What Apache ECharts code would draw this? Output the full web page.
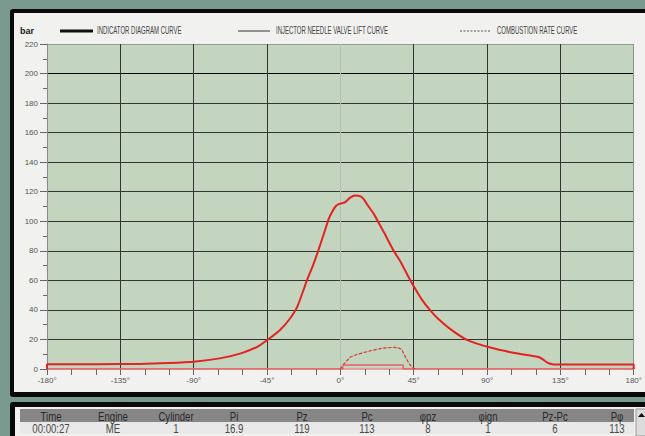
<!DOCTYPE html>
<html>
<head>
<meta charset="utf-8">
<script src="https://cdn.jsdelivr.net/npm/echarts@6/dist/echarts.min.js"></script>
<style>
html,body{margin:0;padding:0;background:#7b9a8f;}
#chart{width:645px;height:436px;}
</style>
</head>
<body>
<div id="chart"></div>
<script>
// ---- data ----
const pressureAngle = [-180, -180, -150, -123, -105, -90, -74, -61, -51, -44, -37, -31, -26.5, -20.5, -16.5, -13.3, -10, -7.2, -5, -3, -1, 1, 3, 6, 9.2, 12, 14.3, 17, 20.5, 24, 27, 32.7, 37, 41, 45, 50, 55.3, 60, 67.5, 78, 92, 106, 118, 122, 124.5, 127, 130, 132, 135, 150, 180, 180];
const pressureBar   = [0, 3.3, 3.3, 3.4, 4.0, 4.9, 7.2, 10.6, 15, 20.3, 26.4, 34, 42, 60, 71, 81, 92, 101.5, 106.5, 110, 111.6, 112.2, 113, 116, 117.5, 117, 115, 110.5, 105, 98, 92, 80, 72.5, 64, 56, 47, 39.5, 34, 27, 19.5, 14.5, 11, 8.8, 8, 6.3, 4.3, 3.2, 3.0, 3.0, 3.0, 3.0, 0];

const needleAngle = [-180, 1.5, 1.5, 38.5, 38.5, 180];
const needleLift  = [0, 0, 2.7, 2.7, 0, 0];

const combAngle = [0, 1, 3, 6, 10, 14, 19, 24.5, 29, 32.7, 35.5, 37.5, 40, 42, 44, 46];
const combRate  = [0, 2, 4.3, 8, 9.8, 11, 12.5, 13.8, 14.5, 14.6, 14.3, 13.5, 8, 4, 1, 0];

const legendNames = ['INDICATOR DIAGRAM CURVE', 'INJECTOR NEEDLE VALVE LIFT CURVE', 'COMBUSTION RATE CURVE'];
const yUnit = 'bar';

const tableHeaders = ['Time', 'Engine', 'Cylinder', 'Pi', 'Pz', 'Pc', 'φpz', 'φign', 'Pz-Pc', 'Pφ'];
const tableValues  = ['00:00:27', 'ME', '1', '16.9', '119', '113', '8', '1', '6', '113'];
const tableColX    = [51, 113, 176, 234, 302, 367, 428, 488, 555, 617];

function pairs(xs, ys){ return xs.map((x, i) => [x, ys[i]]); }

const chart = echarts.init(document.getElementById('chart'), null, {renderer: 'svg'});

const FONT = '"Liberation Sans", Arial, sans-serif';
const graphics = [
  // outer background
  {type:'rect', z:-100, shape:{x:0,y:0,width:645,height:436}, style:{fill:'#7b9a8f'}},
  // top panel
  {type:'rect', z:-99, shape:{x:10,y:9,width:650,height:388,r:3}, style:{fill:'#0a0a0a'}},
  {type:'rect', z:-98, shape:{x:14,y:13,width:640,height:379}, style:{fill:'#f1f1ef'}},
  // bottom panel
  {type:'rect', z:-99, shape:{x:10,y:402,width:650,height:40,r:3}, style:{fill:'#0a0a0a'}},
  {type:'rect', z:-98, shape:{x:15,y:407,width:640,height:35}, style:{fill:'#f1f1ef'}},
  {type:'rect', z:-97, shape:{x:20,y:409,width:614,height:13}, style:{fill:'#868686'}},
  {type:'rect', z:-97, shape:{x:20,y:422,width:614,height:12}, style:{fill:'#e9e9e9'}},
  // scrollbar
  {type:'rect', z:-97, shape:{x:636,y:409,width:12,height:27}, style:{fill:'#dcdcdc', stroke:'#9a9a9a', lineWidth:1}},
  {type:'polygon', z:-96, shape:{points:[[638,417],[645,417],[641.5,413]]}, style:{fill:'#111'}},
  // unit
  {type:'text', x:20, y:31, style:{text:yUnit, font:'bold 9px ' + FONT, fill:'#222', textVerticalAlign:'middle', verticalAlign:'middle'}},
  // legend
  {type:'line', shape:{x1:60,y1:31,x2:93,y2:31}, style:{stroke:'#111', lineWidth:3}},
  {type:'text', x:97, y:31, scaleX:0.6, style:{text:legendNames[0], font:'10px ' + FONT, fill:'#444', textVerticalAlign:'middle', verticalAlign:'middle'}},
  {type:'line', shape:{x1:238,y1:31,x2:270,y2:31}, style:{stroke:'#333', lineWidth:1}},
  {type:'text', x:276, y:31, scaleX:0.6, style:{text:legendNames[1], font:'10px ' + FONT, fill:'#444', textVerticalAlign:'middle', verticalAlign:'middle'}},
  {type:'line', shape:{x1:460,y1:31,x2:491,y2:31}, style:{stroke:'#555', lineWidth:1, lineDash:[2,1.5]}},
  {type:'text', x:497, y:31, scaleX:0.6, style:{text:legendNames[2], font:'10px ' + FONT, fill:'#444', textVerticalAlign:'middle', verticalAlign:'middle'}}
];

tableHeaders.forEach((h, i) => {
  graphics.push({type:'text', x:tableColX[i], y:416.5, scaleX:0.8,
    style:{text:h, font:'12px ' + FONT, fill:'#2a2a2a', textAlign:'center', align:'center', textVerticalAlign:'middle', verticalAlign:'middle'}});
  graphics.push({type:'text', x:tableColX[i], y:428.5, scaleX:0.8,
    style:{text:tableValues[i], font:'12px ' + FONT, fill:'#4a4a4a', textAlign:'center', align:'center', textVerticalAlign:'middle', verticalAlign:'middle'}});
});

const option = {
  animation: false,
  backgroundColor: 'transparent',
  graphic: graphics,
  grid: {left:47, right:11, top:44, bottom:67, show:true, backgroundColor:'#c3d5bf', borderWidth:0},
  xAxis: {
    type:'value', min:-180, max:180, interval:45,
    axisLine:{show:true, onZero:false, lineStyle:{color:'#e88a8a', width:1.5}},
    axisTick:{show:true, length:6, lineStyle:{color:'#666'}},
    minorTick:{show:true, splitNumber:3, length:6, lineStyle:{color:'#666'}},
    axisLabel:{formatter: v => v + '°', fontSize:8, color:'#555', margin:7, fontFamily:FONT},
    splitLine:{show:true, lineStyle:{color:['#8a948a','#333','#333','#333','#b3c0b1','#333','#333','#333','#8a948a'], width:1}}
  },
  yAxis: {
    type:'value', min:0, max:220, interval:20,
    axisLine:{show:true, onZero:false, lineStyle:{color:'#8a8a8a', width:1}},
    axisTick:{show:true, length:7, lineStyle:{color:'#666'}},
    minorTick:{show:true, splitNumber:2, length:4, lineStyle:{color:'#666'}},
    axisLabel:{fontSize:8, color:'#555', margin:9, fontFamily:FONT},
    splitLine:{show:true, lineStyle:{color:['transparent','#333','#333','#333','#333','#333','#333','#333','#333','#333','#000','#999'], width:1}}
  },
  series: [
    {type:'line', name:legendNames[1], data:pairs(needleAngle, needleLift), showSymbol:false, symbol:'none', lineStyle:{color:'#e06464', width:1.5}, z:3},
    {type:'line', data:pairs(combAngle, combRate), showSymbol:false, symbol:'none', lineStyle:{color:'#c9a78a', width:1}, z:3},
    {type:'line', name:legendNames[2], data:pairs(combAngle, combRate), showSymbol:false, symbol:'none', lineStyle:{color:'#d23a3a', width:1.2, type:[3,2]}, z:4},
    {type:'line', name:legendNames[0], data:pairs(pressureAngle, pressureBar), showSymbol:false, symbol:'none', smooth:0.2, lineStyle:{color:'#e32222', width:2}, z:5}
  ]
};
chart.setOption(option);
</script>
</body>
</html>
